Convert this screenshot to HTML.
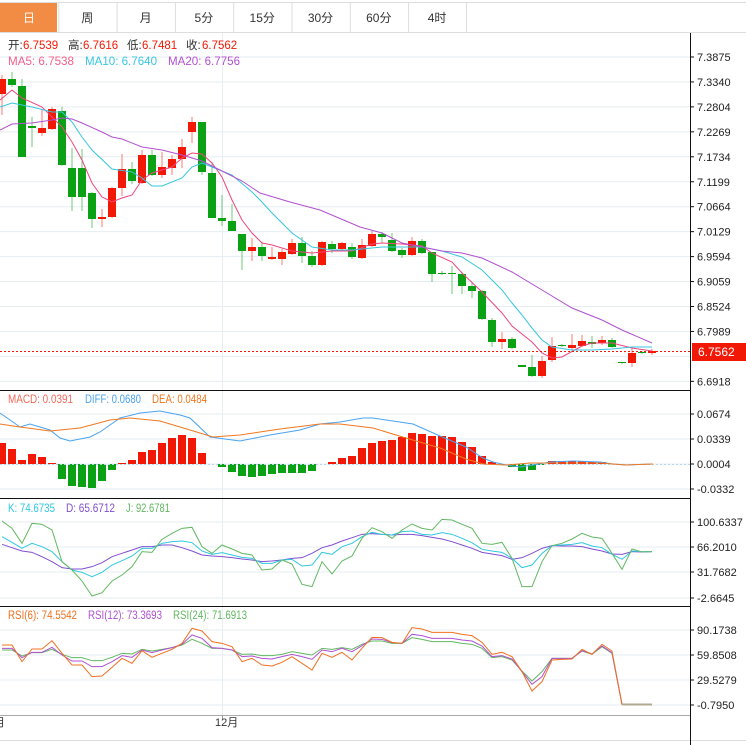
<!DOCTYPE html>
<html><head><meta charset="utf-8"><style>
html,body{margin:0;padding:0;background:#fff;}
body{width:746px;height:745px;overflow:hidden;position:relative;font-family:"Liberation Sans","Noto Sans CJK SC",sans-serif;}
svg{position:absolute;left:0;top:0;}
</style></head><body>
<svg id="s" width="746" height="745" xmlns="http://www.w3.org/2000/svg" font-family="Liberation Sans, Noto Sans CJK SC, sans-serif"></svg>
<script>
var s=document.getElementById('s'),h='';
function L(x1,y1,x2,y2,c,w,d){h+='<line x1="'+x1+'" y1="'+y1+'" x2="'+x2+'" y2="'+y2+'" stroke="'+c+'" stroke-width="'+(w||1)+'"'+(d?' stroke-dasharray="'+d+'"':'')+'/>';}
function R(x,y,w,hh,c){h+='<rect x="'+x+'" y="'+y+'" width="'+w+'" height="'+hh+'" fill="'+c+'"/>';}
function T(x,y,t,c,sz,a,tl){h+='<text x="'+x+'" y="'+y+'" fill="'+c+'" font-size="'+(sz||12)+'"'+(a?' text-anchor="'+a+'"':'')+(tl?' textLength="'+tl+'" lengthAdjust="spacingAndGlyphs"':'')+'>'+t+'</text>';}
function P(pts,c){h+='<polyline fill="none" stroke="'+c+'" stroke-width="1" points="'+pts.map(function(p){return p[0]+','+p[1]}).join(' ')+'"/>';}
var G='#e6eef3';
L(0,2.5,746,2.5,'#ddd');L(0,32.5,746,32.5,'#ddd');
R(0,3,57,29,'#f28c45');
var tabs=['日','周','月','5分','15分','30分','60分','4时'];
for(var i=0;i<tabs.length;i++){var x=i*58.3;T(x+29,22,tabs[i],i?'#333':'#fff',12,'middle');if(i)L(x+0.5,3,x+0.5,32,'#ddd');}
L(466.5,3,466.5,32,'#ddd');
for(var k=0;k<14;k++){var y=57+k*24.95;L(0,y,690,y,G);}
L(222.5,33,222.5,715,G);
[414,439,464,489].forEach(function(y){L(0,y,690,y,G)});
[522,547,572,598].forEach(function(y){L(0,y,690,y,G)});
[630,655,680,705].forEach(function(y){L(0,y,690,y,G)});
L(0,390.5,690,390.5,'#111');L(0,498.5,690,498.5,'#111');L(0,606.5,690,606.5,'#111');
L(0,715.5,690,715.5,'#aaa');L(0,740.5,746,740.5,'#ddd');
L(690.5,33,690.5,745,'#111');
var pl=['7.3875','7.3340','7.2804','7.2269','7.1734','7.1199','7.0664','7.0129','6.9594','6.9059','6.8524','6.7989','','6.6918'];
for(k=0;k<14;k++){if(!pl[k])continue;var y=57+k*24.95;L(690,y,694,y,'#111');T(697,y+4,pl[k],'#222',11);}
var C=[
['r',79,94,75,115],['g',79,85,72,87],['g',86,157,79,157],['g',126,128,117,147],['r',128,133,109,136],
['r',109,129,107,130],['g',111,165,107,166],['g',168,197,148,211],['g',168,197,149,211],['g',193,219,192,228],
['r',217,219,209,227],['r',188,217,187,218],['r',169,188,154,196],['g',169,181,162,184],['r',155,183,150,184],
['g',155,175,150,176],['r',167,175,152,178],['r',159,168,155,175],['r',147,159,139,168],['r',122,132,117,143],
['g',122,172,122,175],['g',173,218,162,218],['g',218,221,195,226],['g',221,231,204,231],['g',234,251,234,270],
['r',247,251,238,261],['g',247,256,242,261],['r',257,259,247,260],['r',252,259,249,265],['r',243,254,239,255],
['g',243,256,237,263],['g',256,265,251,267],['r',242,265,241,266],['g',244,249,241,253],['r',243,249,242,251],
['g',247,257,243,259],['r',245,258,239,259],['r',234,246,231,247],['g',234,237,232,243],['g',240,251,233,252],
['g',250,255,248,258],['r',241,255,237,256],['g',241,253,239,254],['g',252,274,252,282],['g',273,274,271,275],
['g',273,274,266,294],['g',274,286,272,294],['g',286,291,283,298],['g',291,319,290,320],['g',320,342,318,347],
['r',339,342,332,349],['g',339,348,337,349],['g',365,367,365,367],['g',367,376,355,377],['r',361,376,356,378],
['r',346,360,337,362],['g',345,346,344,347],['r',345,348,334,350],['r',341,346,335,347],['g',342,344,336,348],
['r',340,343,336,345],['g',340,347,338,348],['g',362,363,362,364],['r',353,363,348,367],['g',352,353,351,354],
['r',351,353,349,355]];
for(i=0;i<C.length;i++){var c=C[i],x=2+10*i,col=c[0]=='r'?'#f21806':'#0aa114';
L(x,c[3],x,c[4],c[0]=='r'?'#f87a70':'#70c878');R(x-4,c[1],8,Math.max(1,c[2]-c[1]),col);}
P([[0,100],[12,90],[22,98],[42,107],[62,127],[72,142],[82,160],[92,183],[102,197],[112,202],[122,198],[132,195],[142,180],[152,173],[172,167],[182,158],[192,153],[202,154],[212,163],[222,177],[232,200],[242,220],[252,233],[262,243],[272,245],[292,251],[312,253],[332,251],[352,251],[372,244],[382,243],[402,244],[422,246],[432,253],[452,262],[462,273],[482,292],[502,313],[512,326],[532,342],[542,353],[552,358],[562,357],[582,346],[592,343],[612,343],[632,348],[652,351]],'#f0457d');
P([[0,107],[12,103],[32,107],[52,112],[62,112],[72,122],[82,137],[92,150],[112,169],[132,172],[142,178],[152,186],[162,186],[182,178],[192,167],[202,163],[212,167],[232,175],[252,192],[260,200],[272,213],[292,233],[312,247],[332,250],[352,250],[382,247],[402,247],[422,247],[442,251],[462,257],[482,270],[502,290],[512,303],[522,315],[532,328],[542,340],[552,347],[572,350],[592,350],[612,349],[632,347],[652,347]],'#36c6de');
P([[0,130],[12,124],[32,123],[52,120],[62,118],[72,119],[82,123],[102,132],[112,137],[122,139],[142,147],[162,150],[182,155],[202,161],[222,171],[242,181],[260,193],[290,202],[320,210],[360,227],[382,233],[402,243],[422,247],[442,251],[462,253],[482,258],[512,272],[542,290],[572,308],[602,320],[622,330],[652,343]],'#b250d0');
L(0,351.5,690,351.5,'#f21806',1,'2,2');
R(692,343,54,18,'#f21806');T(698,356,'6.7562','#fff',12);
T(8,49,'开:','#333',11.5);T(23,49,'6.7539','#f21806',11.5);T(68,49,'高:','#333',11.5);T(83,49,'6.7616','#f21806',11.5);
T(127,49,'低:','#333',11.5);T(142,49,'6.7481','#f21806',11.5);T(186,49,'收:','#333',11.5);T(202,49,'6.7562','#f21806',11.5);
T(8,65,'MA5: 6.7538','#f0608a',11.5,null,66);T(85,65,'MA10: 6.7640','#36c6de',11.5,null,72);T(168,65,'MA20: 6.7756','#b250d0',11.5,null,72);
var M=[443,449,460,454,457,463,479,486,487,488,481,470,463,460,452,450,443,438,435,438,453,464,467,472,476,477,476,474,473,473,473,471,464,462,458,456,448,443,441,440,437,433,434,436,436,437,442,447,456,462,464,467,471,470,465,461,461,461,461,462,462,464,464,464,464,464];
for(i=0;i<M.length;i++){var x=2+10*i,v=M[i];if(Math.abs(v-464)<1)continue;var col=v<464?'#f21806':'#0aa114';R(x-4,Math.min(v,464),8,Math.abs(v-464),col);}
L(0,464.5,690,464.5,'#b8d8ea',1,'2,2');
P([[0,413],[20,427],[30,424],[50,430],[60,438],[70,441],[90,437],[100,432],[120,418],[140,413],[160,411],[180,415],[190,418],[210,437],[240,441],[270,435],[300,430],[320,424],[340,422],[363,418],[373,418],[413,424],[440,436],[466,447],[483,458],[493,462],[506,465],[520,467],[533,465],[550,462],[573,461],[600,462],[613,464],[626,465],[653,464]],'#4aa3f0');
P([[0,424],[20,427],[50,431],[80,428],[110,420],[130,418],[160,421],[190,430],[213,437],[240,435],[280,429],[320,424],[340,424],[373,428],[406,438],[440,448],[466,459],[483,464],[506,465],[530,463],[560,463],[600,463],[626,465],[653,464]],'#f07820');
T(8,403,'MACD: 0.0391','#f26a5a',11.5,null,65);T(85,403,'DIFF: 0.0680','#4aa3f0',11.5,null,56);T(152,403,'DEA: 0.0484','#f07820',11.5,null,55);
[['0.0674',414],['0.0339',439],['0.0004',464],['-0.0332',489]].forEach(function(a){L(690,a[1],694,a[1],'#111');T(697,a[1]+4,a[0],'#222',11);});
function ser(a,b,base){var p=[];for(var i=0;i<37;i++)p.push([2+10*i,base+a[i]/3]);for(i=0;i<b.length;i++)p.push([372+10*i,base+b[i]/3]);return p;}
var J1=[78,100,145,85,88,105,200,225,258,303,293,258,240,215,170,172,133,115,100,97,155,175,150,162,175,180,225,222,195,207,268,275,200,237,198,183,130],
J2=[98,110,130,105,87,100,105,73,75,88,100,145,148,142,190,275,275,200,152,145,132,115,126,130,175,223,162,171,170];
var K1=[125,142,160,145,155,170,200,225,232,245,232,210,197,183,160,160,145,140,138,143,168,178,173,180,187,190,205,205,195,193,213,210,172,178,155,145,125],
K2=[112,118,120,110,108,118,120,113,118,130,143,163,168,172,190,218,210,175,152,150,148,143,153,158,178,193,168,170,170];
var D1=[148,158,168,172,185,200,218,222,222,215,203,185,175,165,155,155,150,150,158,168,180,183,185,188,192,195,200,198,195,190,188,175,158,150,138,128,118],
D2=[116,118,120,118,118,122,127,132,140,150,160,172,177,182,193,188,175,160,152,153,153,155,162,168,177,178,170,171,170];
P(ser(D1,D2,495),'#8050d0');P(ser(K1,K2,495),'#30c8e0');P(ser(J1,J2,495),'#62b862');
T(8,512,'K: 74.6735','#30c8e0',11.5,null,47);T(66,512,'D: 65.6712','#8050d0',11.5,null,49);T(126,512,'J: 92.6781','#62b862',11.5,null,44);
[['100.6337',522],['66.2010',547],['31.7682',572],['-2.6645',598]].forEach(function(a){L(690,a[1],694,a[1],'#111');T(697,a[1]+4,a[0],'#222',11);});
var O1=[120,120,170,132,132,107,145,180,180,215,213,187,160,175,137,157,145,133,115,70,78,110,115,125,170,160,180,183,172,155,175,195,145,157,142,165,130],
O2=[97,98,112,115,68,72,82,82,82,88,92,112,148,142,155,200,258,230,165,163,162,133,148,118,138,298,298,298,298];
var Q1=[130,130,158,142,142,127,150,168,168,185,185,170,152,157,135,143,135,128,118,90,100,128,130,135,155,153,160,162,155,148,155,163,135,140,130,140,122],
Q2=[102,103,113,115,88,92,100,100,100,105,108,123,155,152,162,200,238,215,160,160,160,137,147,123,143,298,298,298,298];
var W1=[135,135,153,143,143,133,148,158,158,167,167,157,145,147,133,138,133,128,120,103,115,130,130,135,148,147,152,152,148,140,145,150,130,133,128,133,118],
W2=[108,108,115,115,98,103,110,110,110,115,118,130,158,155,165,198,228,200,160,160,160,138,148,125,145,298,298,298,298];
P(ser(W1,W2,605),'#62b862');P(ser(Q1,Q2,605),'#b050d0');P(ser(O1,O2,605),'#f07020');
L(622,704.5,652,704.5,'#b0a890',2);
T(8,619,'RSI(6): 74.5542','#f07020',11.5,null,69);T(88,619,'RSI(12): 73.3693','#b050d0',11.5,null,74);T(173,619,'RSI(24): 71.6913','#62b862',11.5,null,74);
[['90.1738',630],['59.8508',655],['29.5279',680],['-0.7950',705]].forEach(function(a){L(690,a[1],694,a[1],'#111');T(697,a[1]+4,a[0],'#222',11);});
L(222.5,715,222.5,719,'#999');
T(-6,726,'月','#333',11);T(215,726,'12月','#333',11);
s.innerHTML=h;
</script>
</body></html>
